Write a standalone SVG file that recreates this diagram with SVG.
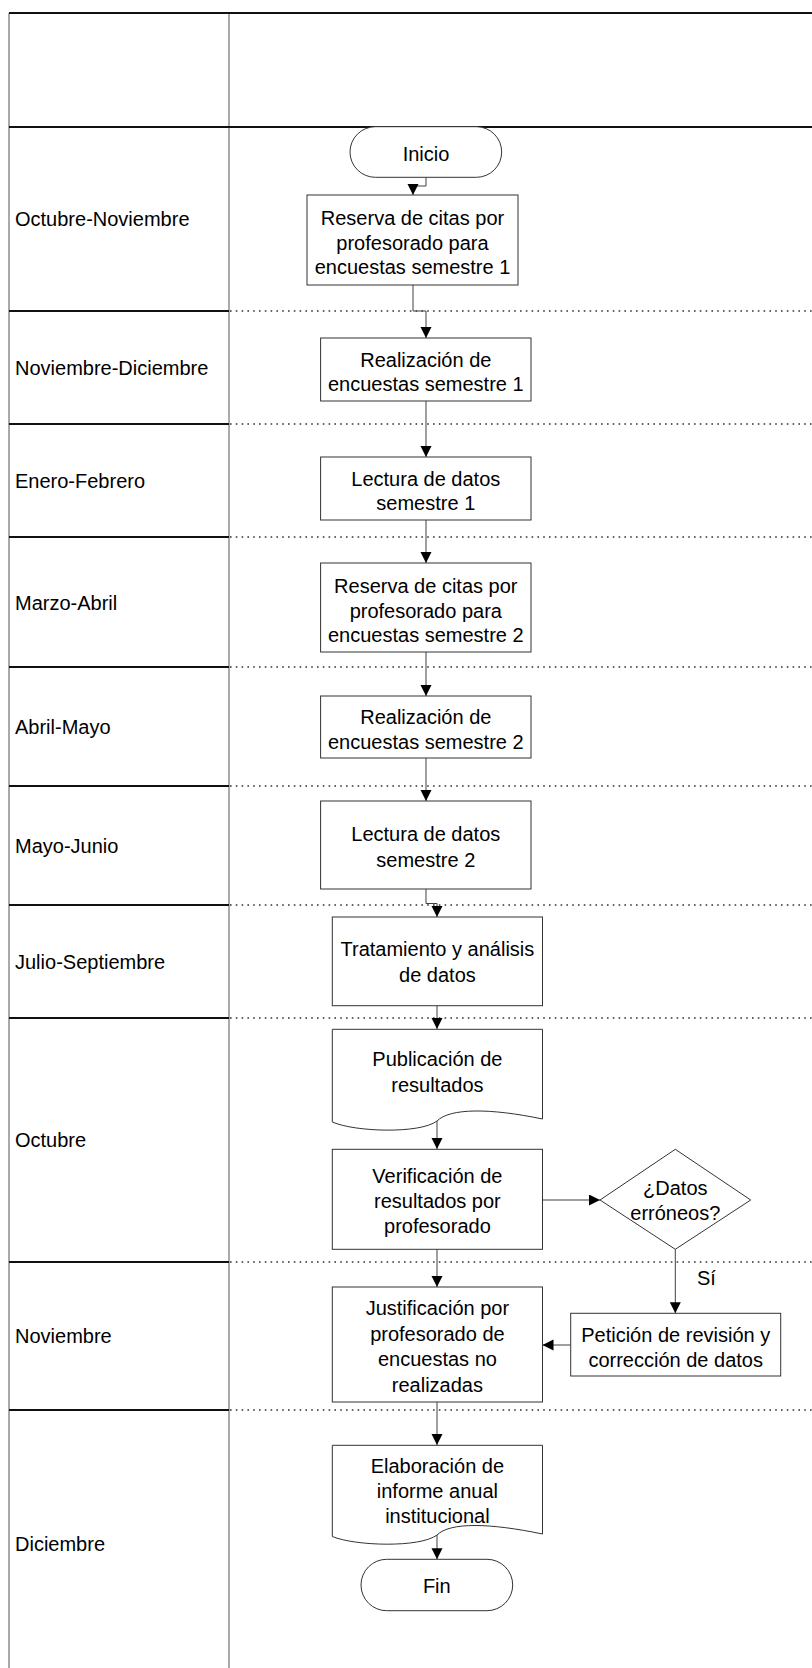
<svg xmlns="http://www.w3.org/2000/svg" width="812" height="1668" viewBox="0 0 812 1668">
<defs>
<marker id="arr" markerUnits="userSpaceOnUse" markerWidth="12" markerHeight="12" refX="11" refY="5.5" orient="auto">
<path d="M0,0 L11,5.5 L0,11 z" fill="#000"/>
</marker>
<style>
text{font-family:"Liberation Sans",Arial,sans-serif;font-size:20px;fill:#000}
.c{text-anchor:middle}
.box{fill:#fff;stroke:#333;stroke-width:1}
.conn{fill:none;stroke:#404040;stroke-width:1;marker-end:url(#arr)}
.thin{stroke:#555;stroke-width:1;fill:none}
.thick{stroke:#111;stroke-width:2;fill:none}
.dot{stroke:#333;stroke-width:1.3;stroke-dasharray:1.6 4.2;fill:none}
</style>
</defs>
<rect x="0" y="0" width="812" height="1668" fill="#fff"/>
<g id="table">
<line class="thin" x1="9" y1="13" x2="9" y2="1668"/>
<line class="thin" x1="229" y1="13" x2="229" y2="1668"/>
<line class="thick" x1="9" y1="13" x2="812" y2="13"/>
<line class="thick" x1="9" y1="127" x2="812" y2="127"/>
<g class="rows">
<line class="thick" x1="9" y1="311" x2="229" y2="311"/><line class="dot" x1="230" y1="311" x2="812" y2="311"/>
<line class="thick" x1="9" y1="424" x2="229" y2="424"/><line class="dot" x1="230" y1="424" x2="812" y2="424"/>
<line class="thick" x1="9" y1="537" x2="229" y2="537"/><line class="dot" x1="230" y1="537" x2="812" y2="537"/>
<line class="thick" x1="9" y1="667" x2="229" y2="667"/><line class="dot" x1="230" y1="667" x2="812" y2="667"/>
<line class="thick" x1="9" y1="786" x2="229" y2="786"/><line class="dot" x1="230" y1="786" x2="812" y2="786"/>
<line class="thick" x1="9" y1="905" x2="229" y2="905"/><line class="dot" x1="230" y1="905" x2="812" y2="905"/>
<line class="thick" x1="9" y1="1018" x2="229" y2="1018"/><line class="dot" x1="230" y1="1018" x2="812" y2="1018"/>
<line class="thick" x1="9" y1="1262" x2="229" y2="1262"/><line class="dot" x1="230" y1="1262" x2="812" y2="1262"/>
<line class="thick" x1="9" y1="1410" x2="229" y2="1410"/><line class="dot" x1="230" y1="1410" x2="812" y2="1410"/>
</g>
<g class="labels">
<text x="15" y="226">Octubre-Noviembre</text>
<text x="15" y="375">Noviembre-Diciembre</text>
<text x="15" y="488">Enero-Febrero</text>
<text x="15" y="610">Marzo-Abril</text>
<text x="15" y="734">Abril-Mayo</text>
<text x="15" y="853">Mayo-Junio</text>
<text x="15" y="969">Julio-Septiembre</text>
<text x="15" y="1147">Octubre</text>
<text x="15" y="1343">Noviembre</text>
<text x="15" y="1551">Diciembre</text>
</g>
</g>
<g id="connectors">
<polyline class="conn" points="426,177.3 426,186 413,186 413,195"/>
<polyline class="conn" points="413,285 413,311 426,311 426,338"/>
<polyline class="conn" points="426,401 426,457"/>
<polyline class="conn" points="426,520 426,563"/>
<polyline class="conn" points="426,652 426,696"/>
<polyline class="conn" points="426,758 426,801"/>
<polyline class="conn" points="426,889 426,903.5 437,903.5 437,917"/>
<polyline class="conn" points="437,1005.7 437,1029"/>
<polyline class="conn" points="437,1121 437,1149"/>
<polyline class="conn" points="542.5,1200 600,1200"/>
<polyline class="conn" points="675.3,1249.3 675.3,1313.3"/>
<polyline class="conn" points="570.7,1345 542.5,1345"/>
<polyline class="conn" points="437,1249.3 437,1287"/>
<polyline class="conn" points="437,1402 437,1445"/>
<polyline class="conn" points="437,1535 437,1559.3"/>
<text x="697" y="1285">Sí</text>
</g>
<g id="inicio">
<rect class="box" x="350" y="126.7" width="151.7" height="50.6" rx="25.3" ry="25.3"/>
<text class="c" x="426" y="161">Inicio</text>
</g>
<g id="reserva1">
<rect class="box" x="307" y="195" width="211" height="90"/>
<text class="c" x="412.5" y="225">Reserva de citas por</text>
<text class="c" x="412.5" y="249.5">profesorado para</text>
<text class="c" x="412.5" y="274">encuestas semestre 1</text>
</g>
<g id="realizacion1">
<rect class="box" x="320.6" y="338" width="210.4" height="63"/>
<text class="c" x="425.8" y="366.5">Realización de</text>
<text class="c" x="425.8" y="391">encuestas semestre 1</text>
</g>
<g id="lectura1">
<rect class="box" x="320.6" y="457" width="210.4" height="63"/>
<text class="c" x="425.8" y="485.5">Lectura de datos</text>
<text class="c" x="425.8" y="510">semestre 1</text>
</g>
<g id="reserva2">
<rect class="box" x="320.6" y="563" width="210.4" height="89"/>
<text class="c" x="425.8" y="593">Reserva de citas por</text>
<text class="c" x="425.8" y="617.5">profesorado para</text>
<text class="c" x="425.8" y="642">encuestas semestre 2</text>
</g>
<g id="realizacion2">
<rect class="box" x="320.6" y="696" width="210.4" height="62"/>
<text class="c" x="425.8" y="724">Realización de</text>
<text class="c" x="425.8" y="748.5">encuestas semestre 2</text>
</g>
<g id="lectura2">
<rect class="box" x="320.6" y="801" width="210.4" height="88"/>
<text class="c" x="425.8" y="841">Lectura de datos</text>
<text class="c" x="425.8" y="867">semestre 2</text>
</g>
<g id="tratamiento">
<rect class="box" x="332.3" y="917" width="210.2" height="88.7"/>
<text class="c" x="437.4" y="956">Tratamiento y análisis</text>
<text class="c" x="437.4" y="982">de datos</text>
</g>
<g id="publicacion">
<path class="box" d="M332.3,1029.3 H542.5 V1119 C490,1108 450,1108 437,1121 C420,1134 355,1132 332.3,1122 Z"/>
<text class="c" x="437.4" y="1066">Publicación de</text>
<text class="c" x="437.4" y="1091.5">resultados</text>
</g>
<g id="verificacion">
<rect class="box" x="332.3" y="1149.3" width="210.2" height="100"/>
<text class="c" x="437.4" y="1183">Verificación de</text>
<text class="c" x="437.4" y="1208">resultados por</text>
<text class="c" x="437.4" y="1233">profesorado</text>
</g>
<g id="decision">
<polygon class="box" points="600,1200 675.3,1149.3 750.7,1200 675.3,1249.3"/>
<text class="c" x="675.3" y="1195">¿Datos</text>
<text class="c" x="675.3" y="1219.5">erróneos?</text>
</g>
<g id="peticion">
<rect class="box" x="570.7" y="1313.3" width="210" height="62.7"/>
<text class="c" x="675.7" y="1342">Petición de revisión y</text>
<text class="c" x="675.7" y="1366.5">corrección de datos</text>
</g>
<g id="justificacion">
<rect class="box" x="332.3" y="1287" width="210.2" height="115"/>
<text class="c" x="437.4" y="1315">Justificación por</text>
<text class="c" x="437.4" y="1340.5">profesorado de</text>
<text class="c" x="437.4" y="1366">encuestas no</text>
<text class="c" x="437.4" y="1391.5">realizadas</text>
</g>
<g id="elaboracion">
<path class="box" d="M332.3,1445.3 H542.5 V1534 C490,1523 450,1522 437,1535 C420,1548 355,1546 332.3,1536.5 Z"/>
<text class="c" x="437.4" y="1472.5">Elaboración de</text>
<text class="c" x="437.4" y="1497.5">informe anual</text>
<text class="c" x="437.4" y="1522.5">institucional</text>
</g>
<g id="fin">
<rect class="box" x="361" y="1559.3" width="151.7" height="51.4" rx="25.7" ry="25.7"/>
<text class="c" x="436.8" y="1592.5">Fin</text>
</g>
</svg>
